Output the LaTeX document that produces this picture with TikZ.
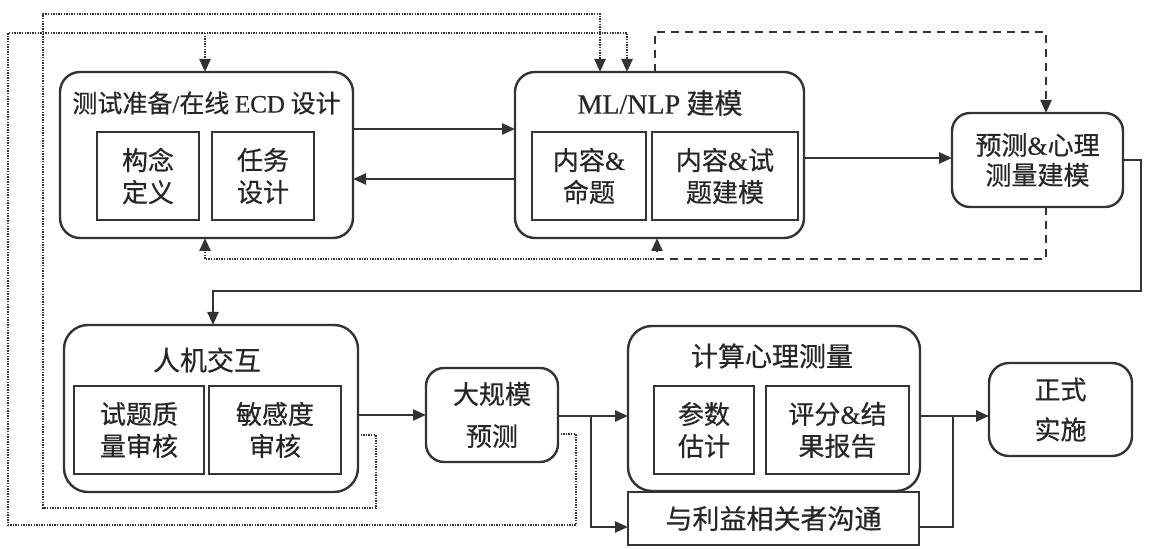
\documentclass[tikz,border=0pt]{standalone}
\usepackage{fontspec}
\setmainfont{Liberation Serif}[FakeBold=0.5]
\newfontfamily\cjk{Noto Sans CJK SC}[FakeBold=0.5]
\usetikzlibrary{arrows.meta}
\newcommand{\lat}[1]{{\rmfamily #1}}
\begin{document}
\begin{tikzpicture}[x=0.5pt,y=-0.5pt,
  outer/.style={draw=black!80, line width=1.2pt, rounded corners=10pt, inner sep=0pt, outer sep=0pt},
  inner/.style={draw=black!80, line width=1.2pt, align=center, text=black!85, inner sep=0pt, outer sep=0pt,
                font=\cjk\fontsize{13pt}{16pt}\selectfont},
  ttl/.style={text=black!85, inner sep=0pt, font=\cjk\fontsize{13.5pt}{16pt}\selectfont},
  solo/.style={outer, align=center, text=black!85, font=\cjk\fontsize{13pt}{20pt}\selectfont},
  arr/.style={line width=1.2pt, draw=black!80, -{Triangle[length=6.5pt,width=5.5pt]}},
  plain/.style={line width=1.2pt, draw=black!80},
  dotl/.style={line width=1.8pt, draw=black!55, dash pattern=on 0.7pt off 0.6pt},
  dashl/.style={line width=1.2pt, draw=black!80, dash pattern=on 4pt off 3pt}
]
\useasboundingbox (0,0) rectangle (1149,549);

% ---- top row
\node[outer, minimum width=146.5pt, minimum height=83pt] (A) at (206.5,155) {};
\node[ttl, font=\cjk\fontsize{12.5pt}{15pt}\selectfont] (At) at (206.5,103) {测试准备\lat{/}在线 \lat{ECD} 设计};
\node[inner, minimum width=51pt, minimum height=44pt] (A1) at (148,176) {构念\\定义};
\node[inner, minimum width=51pt, minimum height=44pt] (A2) at (263,176) {任务\\设计};

\node[outer, minimum width=144.5pt, minimum height=83pt] (B) at (659.5,155) {};
\node[ttl, font=\cjk\fontsize{14pt}{16pt}\selectfont] (Bt) at (660,103) {\lat{ML/NLP} 建模};
\node[inner, minimum width=57pt, minimum height=44pt] (B1) at (589,176) {内容\lat{\&}\\命题};
\node[inner, minimum width=73pt, minimum height=44pt] (B2) at (725,176) {内容\lat{\&}试\\题建模};

\node[solo, rounded corners=9pt, minimum width=85.5pt, minimum height=47pt,
      font=\cjk\fontsize{13pt}{15pt}\selectfont] (C) at (1037.5,160) {预测\lat{\&}心理\\测量建模};

% ---- bottom row
\node[outer, rounded corners=12pt, minimum width=147pt, minimum height=83.5pt] (D) at (211,408.5) {};
\node[ttl] (Dt) at (207,360) {人机交互};
\node[inner, minimum width=65pt, minimum height=44pt] (D1) at (139,430) {试题质\\量审核};
\node[inner, minimum width=66pt, minimum height=44pt] (D2) at (275,430) {敏感度\\审核};

\node[solo, rounded corners=9pt, minimum width=66pt, minimum height=47pt,
      font=\cjk\fontsize{13pt}{21pt}\selectfont] (E) at (492,415) {大规模\\预测};

\node[outer, rounded corners=12pt, minimum width=146pt, minimum height=82.5pt] (F) at (774,408.5) {};
\node[ttl] (Ft) at (772,356) {计算心理测量};
\node[inner, minimum width=50pt, minimum height=44pt] (F1) at (704,430) {参数\\估计};
\node[inner, minimum width=71.5pt, minimum height=44pt] (F2) at (837.5,430) {评分\lat{\&}结\\果报告};

\node[inner, minimum width=145.5pt, minimum height=26.5pt, font=\cjk\fontsize{13.5pt}{16pt}\selectfont] (G) at (773.5,518.5) {与利益相关者沟通};

\node[solo, rounded corners=10pt, minimum width=71.5pt, minimum height=46.5pt] (H) at (1060.5,409.5) {正式\\实施};

% ---- helper coordinates
\coordinate (yAB) at (0,129);
\coordinate (yBA) at (0,179);
\coordinate (yBC) at (0,158);
\coordinate (yCo) at (0,160);
\coordinate (cr) at (1141,291);
\coordinate (dtl) at (655,32);
\coordinate (dtr) at (1046,32);
\coordinate (dbr) at (1046,259);
\coordinate (dbm) at (657,259);
\coordinate (dbl) at (205,259);
\coordinate (yDo) at (0,435);
\coordinate (dd1) at (376,508);
\coordinate (dd2) at (43,14);
\coordinate (dd3) at (600,14);
\coordinate (yEo) at (0,434);
\coordinate (ee1) at (576,525);
\coordinate (ee2) at (8,33);
\coordinate (ee3) at (627,33);
\coordinate (ea) at (205,33);
\coordinate (yRow) at (0,416);
\coordinate (yDE) at (0,415);
\coordinate (br) at (591,416);
\coordinate (yG) at (0,527);
\coordinate (jn) at (953,416);

% ---- solid connectors
\draw[arr] (A.east |- yAB) -- (B.west |- yAB);
\draw[arr] (B.west |- yBA) -- (A.east |- yBA);
\draw[arr] (B.east |- yBC) -- (C.west |- yBC);
\draw[arr] (C.east |- yCo) -| (cr) -| ([xshift=1pt]D.north);
\draw[arr] (D.east |- yDE) -- (E.west |- yDE);
\draw[arr] (E.east |- yRow) -- (F.west |- yRow);
\draw[arr] (br) |- (G.west |- yG);
\draw[arr] (F.east |- yRow) -- (H.west |- yRow);
\draw[plain] (G.east |- yG) -| (jn);

% ---- dashed connectors
\draw[dashl, arr] (B.north -| dtl) |- (dtr) -- (C.north -| dtr);
\draw[dashl, arr] (C.south -| dbr) |- (dbm) -- (B.south -| dbm);

% ---- dotted connectors
\draw[dotl, arr] (dbm) -- (dbl) -- (A.south -| dbl);
\draw[dotl, arr] (D.east |- yDo) -| (dd1) -| (dd2) -| (B.north -| dd3);
\draw[dotl, arr] (E.east |- yEo) -| (ee1) -| (ee2) -| (B.north -| ee3);
\draw[dotl, arr] (ea) -- (A.north -| ea);
\end{tikzpicture}
\end{document}
